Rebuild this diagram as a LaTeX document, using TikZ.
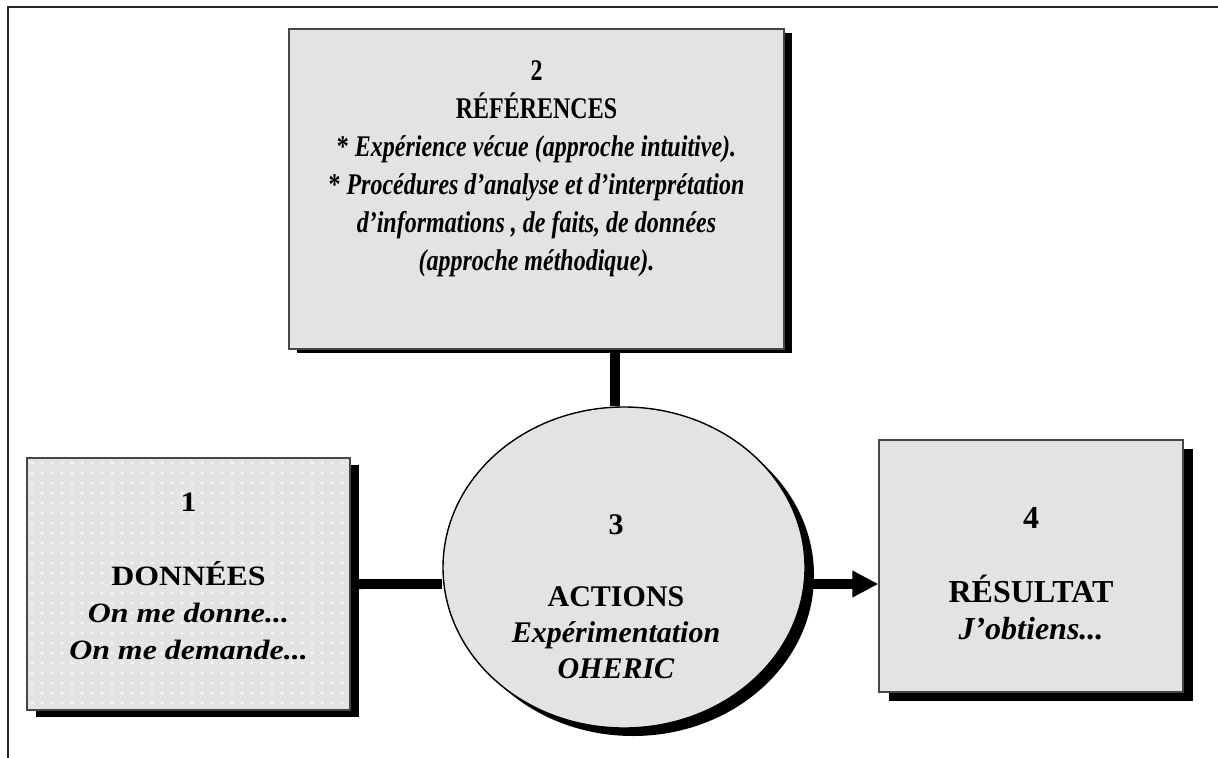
\documentclass[tikz,border=0pt]{standalone}
\usepackage{fontspec}
\setmainfont{Liberation Serif}
\newfontfamily\narrowserif{Liberation Serif}[FakeStretch=0.8]
\newfontfamily\wideserif{Liberation Serif}[FakeStretch=1.14]
\usetikzlibrary{shadows,arrows.meta,shapes.geometric}
\definecolor{boxfill}{RGB}{227,227,227}
\definecolor{boxline}{RGB}{70,70,70}
\definecolor{dotcol}{RGB}{250,250,250}
\begin{document}
\begin{tikzpicture}[x=0.5pt,y=-0.5pt,
  panel/.style={draw=boxline,line width=0.6pt,fill=boxfill,rectangle,inner sep=0pt},
  oval/.style={draw=black,line width=0.7pt,fill=boxfill,ellipse,inner sep=0pt},
  conn/.style={line width=5pt,black},
  txt/.style={align=center,inner sep=0pt},
  hardshadow/.style 2 args={drop shadow={shadow xshift=#1,shadow yshift=#2,fill=black,opacity=1}}
]
\useasboundingbox (0,0) rectangle (1218,758);
\fill[white] (0,0) rectangle (1218,758);
% outer frame
\draw[line width=1.1pt,black!85] (8,758) -- (8,7) -- (1218,7);

% shapes
\node[panel,minimum width=247.5pt,minimum height=160pt,hardshadow={3.75pt}{-2.25pt}] (b2) at (536.5,189) {};
\node[panel,minimum width=161.5pt,minimum height=126pt,hardshadow={4.5pt}{-3.5pt}] (b1) at (188.5,584) {};
\begin{scope}
  \clip ([shift={(1,1)}]b1.north west) rectangle ([shift={(-1,-1)}]b1.south east);
  \foreach \i in {0,...,31}{
    \foreach \j in {0,...,24}{
      \fill[dotcol] ({32+10*\i},{463+10*\j}) circle (0.75pt);
    }
  }
\end{scope}
\node[panel,minimum width=152pt,minimum height=126pt,hardshadow={5pt}{-4.5pt}] (b4) at (1031,566) {};
\node[oval,minimum width=181pt,minimum height=160.5pt,hardshadow={4.5pt}{-4pt}] (ell) at (624,567.5) {};

% texts
\node[txt,font=\narrowserif\bfseries\fontsize{15pt}{19pt}\selectfont] (t2) at (536.5,169)
  {2\\
   RÉFÉRENCES\\
   \textup{*} \textit{Expérience vécue (approche intuitive).}\\
   \textup{*} \textit{Procédures d’analyse et d’interprétation}\\
   \textit{d’informations , de faits, de données}\\
   \textit{(approche méthodique).}};
\node[txt,font=\wideserif\bfseries\fontsize{14pt}{18.5pt}\selectfont] (t1) at (188.5,576)
  {1\\[18.5pt]
   DONNÉES\\
   \textit{On me donne...}\\
   \textit{On me demande...}};
\node[txt,font=\bfseries\fontsize{15pt}{18pt}\selectfont] (t3) at (616,596.5)
  {3\\[18pt]
   ACTIONS\\
   \textit{Expérimentation}\\
   \textit{OHERIC}};
\node[txt,font=\bfseries\fontsize{16pt}{18.5pt}\selectfont] (t4) at (1031,574)
  {4\\[18.5pt]
   RÉSULTAT\\
   \textit{J’obtiens...}};

% connectors
\draw[conn] ([xshift=-4.5pt]ell.north) -- ([xshift=-4.5pt]ell.north |- b2.south);
\draw[conn,{Round Cap[]}-] (b1.east) -- (b1.east -| ell.west);
\draw[conn,-{Triangle[length=13pt,width=12.5pt]}] (b1.east -| ell.east) -- (b1.east -| b4.west);
\end{tikzpicture}
\end{document}
